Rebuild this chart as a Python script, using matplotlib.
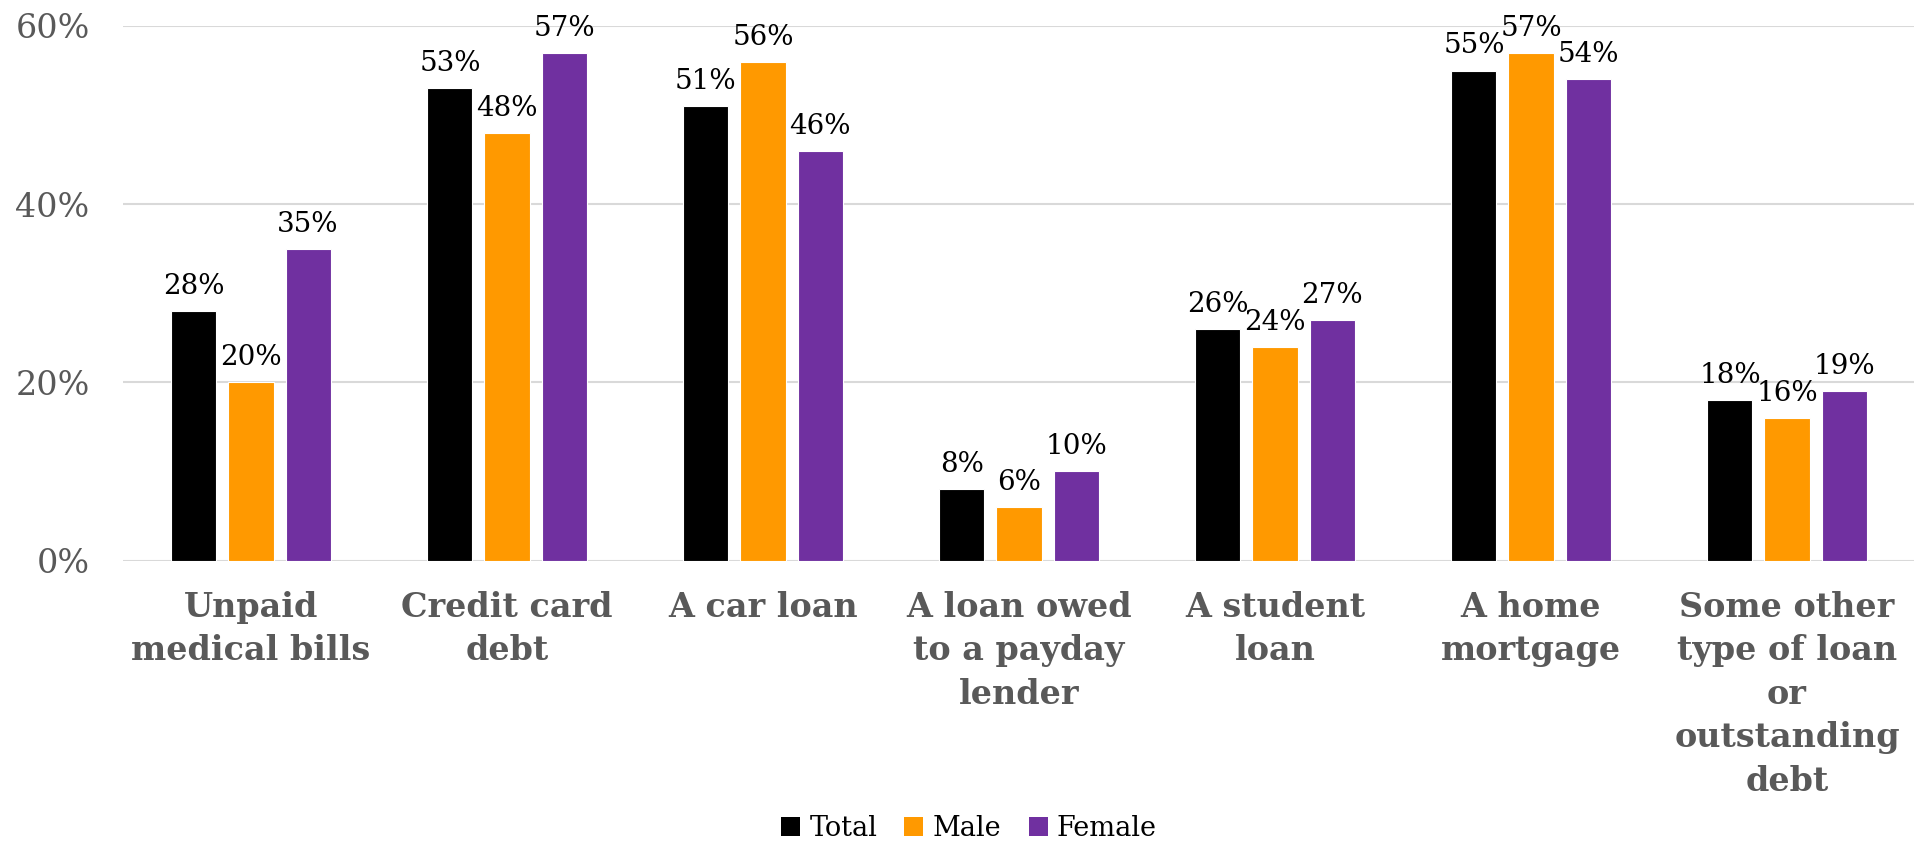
import numpy as np
import matplotlib
matplotlib.use("Agg")
import matplotlib.pyplot as plt
from matplotlib.patches import Patch

# data (percent)
categories = ["Unpaid\nmedical bills", "Credit card\ndebt", "A car loan",
              "A loan owed\nto a payday\nlender", "A student\nloan",
              "A home\nmortgage",
              "Some other\ntype of loan\nor\noutstanding\ndebt"]
total = [28, 53, 51, 8, 26, 55, 18]
male = [20, 48, 56, 6, 24, 57, 16]
female = [35, 57, 46, 10, 27, 54, 19]
series_names = ["Total", "Male", "Female"]
colors = ["#000000", "#FF9900", "#7030A0"]

plt.rcParams["font.family"] = ["DejaVu Serif"]

fig = plt.figure(figsize=(19.15, 8.42), dpi=100)
ax = fig.add_axes([123 / 1915, 1 - 560.5 / 842, 1 - 123 / 1915, (560.5 - 26) / 842])

x = np.arange(len(categories))
offset = 0.223
width = 0.176
for i, (vals, col) in enumerate(zip([total, male, female], colors)):
    pos = x + (i - 1) * offset
    bars = ax.bar(pos, np.array(vals) / 100, width, color=col,
                  edgecolor="white", linewidth=0.8, zorder=3)
    for b, v in zip(bars, vals):
        ax.annotate(f"{v}%", (b.get_x() + b.get_width() / 2, b.get_height()),
                    xytext=(0, 8), textcoords="offset points",
                    ha="center", va="bottom", fontsize=20, color="black",
                    annotation_clip=False)

ax.set_xlim(-0.5, len(categories) - 0.5)
ax.set_ylim(0, 0.6)
ax.set_yticks([0, 0.2, 0.4, 0.6])
ax.set_yticklabels(["0%", "20%", "40%", "60%"])
ax.set_xticks(x)
ax.set_xticklabels(categories, fontsize=24, fontweight="bold", color="#595959",
                   linespacing=1.4)
ax.tick_params(axis="x", length=0, pad=22)
ax.tick_params(axis="y", length=0, pad=24, labelsize=24, labelcolor="#595959")
for s in ax.spines.values():
    s.set_visible(False)
ax.grid(axis="y", color="#D9D9D9", linewidth=1.5, zorder=0)
ax.set_axisbelow(True)

handles = [Patch(facecolor=c, label=n) for c, n in zip(colors, series_names)]
fig.legend(handles=handles, loc="center", bbox_to_anchor=(969 / 1915, 1 - 828 / 842),
           ncol=3, frameon=False, fontsize=19.5, handlelength=0.7, handleheight=0.7,
           handletextpad=0.35, columnspacing=1.0)

fig.savefig("out.png", dpi=100)
